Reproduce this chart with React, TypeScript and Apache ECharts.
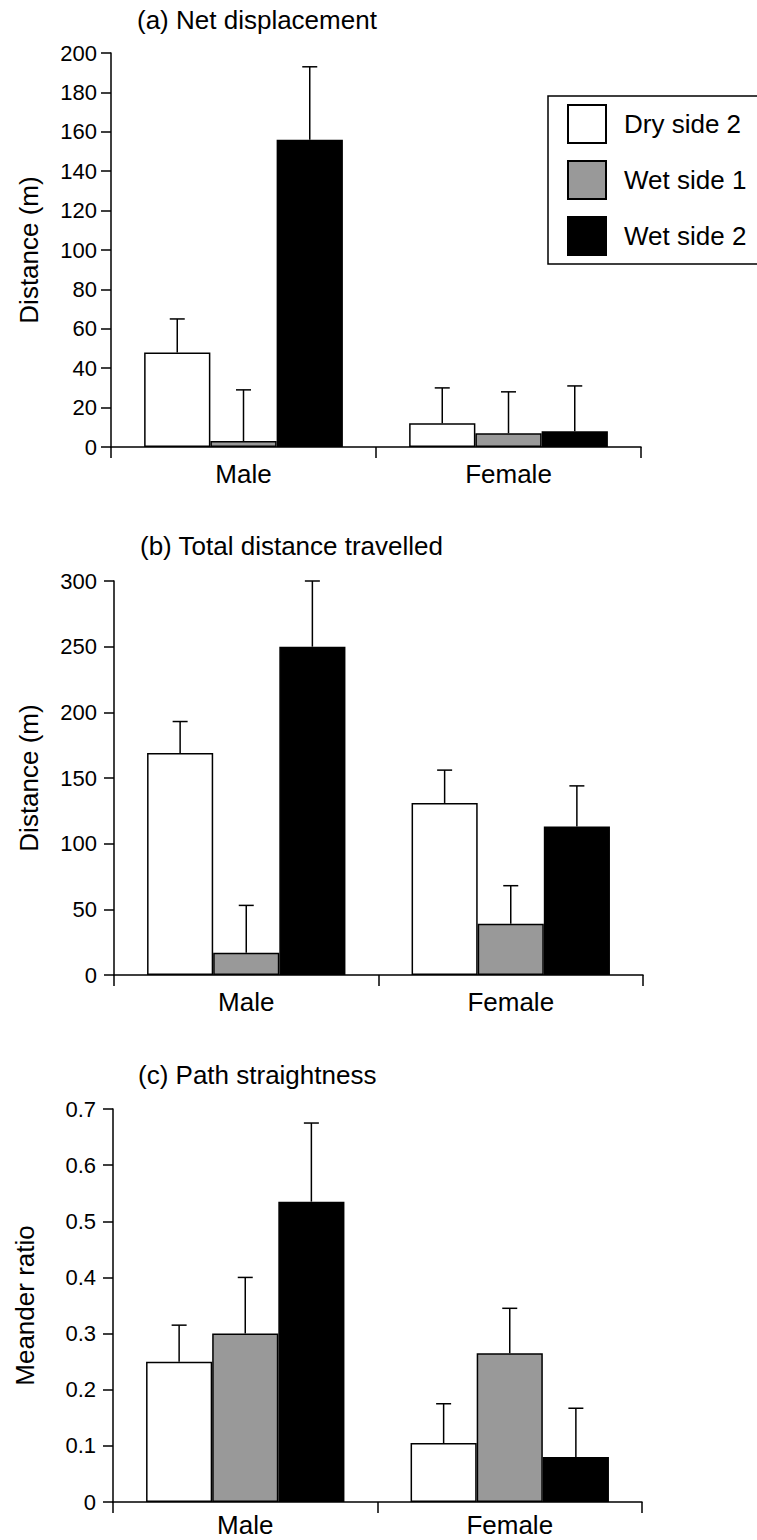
import React, { useEffect, useRef } from "react";
import * as echarts from "echarts";

const categories = ["Male", "Female"];
const seriesNames = ["Dry side 2", "Wet side 1", "Wet side 2"];
const seriesColors = ["#ffffff", "#999999", "#000000"];

// (a) Net displacement (m)
const netDry = [48, 12];
const netWet1 = [3, 7];
const netWet2 = [156, 8];
const netDrySE = [17, 18];
const netWet1SE = [26, 21];
const netWet2SE = [37, 23];

// (b) Total distance travelled (m)
const totDry = [169, 131];
const totWet1 = [17, 39];
const totWet2 = [250, 113];
const totDrySE = [24, 25];
const totWet1SE = [36, 29];
const totWet2SE = [50, 31];

// (c) Path straightness (meander ratio)
const mrDry = [0.25, 0.105];
const mrWet1 = [0.3, 0.265];
const mrWet2 = [0.535, 0.08];
const mrDrySE = [0.065, 0.07];
const mrWet1SE = [0.1, 0.08];
const mrWet2SE = [0.14, 0.087];

const panelTitles = ["(a) Net displacement", "(b) Total distance travelled", "(c) Path straightness"];
const yNames = ["Distance (m)", "Distance (m)", "Meander ratio"];
const yMax = [200, 300, 0.7];
const yInterval = [20, 50, 0.1];

const FONT = "Liberation Sans, Arial, Helvetica, sans-serif";

export default function App() {
  const ref = useRef<HTMLDivElement>(null);
  useEffect(() => {
    if (!ref.current) return;
    const chart = echarts.init(ref.current, null, { renderer: "svg" });

    const panels = [
      { vals: [netDry, netWet1, netWet2], se: [netDrySE, netWet1SE, netWet2SE] },
      { vals: [totDry, totWet1, totWet2], se: [totDrySE, totWet1SE, totWet2SE] },
      { vals: [mrDry, mrWet1, mrWet2], se: [mrDrySE, mrWet1SE, mrWet2SE] },
    ];

    const grids = [
      { left: 111, width: 530, top: 53, height: 394 },
      { left: 114, width: 529, top: 581, height: 394 },
      { left: 113, width: 529, top: 1109, height: 393 },
    ];
    const nameGaps = [69, 72, 75];
    const labelMargins = [14, 17, 17];
    const catMargins = [14, 14, 10];
    const titlePos = [
      { left: 137, top: 7 },
      { left: 140, top: 533 },
      { left: 138, top: 1062 },
    ];

    const axisLine = { show: true, lineStyle: { color: "#000", width: 1.5 } };
    const axisTick = { show: true, length: 10, lineStyle: { color: "#000", width: 1.5 } };

    const series: any[] = [];
    panels.forEach((p, gi) => {
      p.vals.forEach((v, si) => {
        series.push({
          type: "bar",
          name: seriesNames[si],
          xAxisIndex: gi,
          yAxisIndex: gi,
          data: v,
          barGap: "0%",
          barCategoryGap: "25%",
          itemStyle: { color: seriesColors[si], borderColor: "#000", borderWidth: 1.5 },
        });
      });
      const errData: any[] = [];
      p.vals.forEach((v, si) => {
        v.forEach((val, ci) => {
          errData.push([ci, val, val + p.se[si][ci], si]);
        });
      });
      series.push({
        type: "custom",
        xAxisIndex: gi,
        yAxisIndex: gi,
        data: errData,
        z: 5,
        renderItem: (params: any, api: any) => {
          const ci = api.value(0);
          const base = api.coord([ci, api.value(1)]);
          const top = api.coord([ci, api.value(2)]);
          const catW = api.size([1, 0])[0];
          const bw = (catW * 0.75) / 3;
          const x = base[0] + (api.value(3) - 1) * bw;
          const style = { stroke: "#000", lineWidth: 1.5 };
          return {
            type: "group",
            children: [
              { type: "line", shape: { x1: x, y1: base[1], x2: x, y2: top[1] }, style },
              { type: "line", shape: { x1: x - 7.5, y1: top[1], x2: x + 7.5, y2: top[1] }, style },
            ],
          };
        },
      });
    });

    const option: any = {
      animation: false,
      backgroundColor: "#fff",
      textStyle: { fontFamily: FONT, color: "#000" },
      title: panelTitles.map((t, i) => ({
        text: t,
        left: titlePos[i].left,
        top: titlePos[i].top,
        padding: 0,
        textStyle: { fontFamily: FONT, fontSize: 26, fontWeight: "normal", color: "#000" },
      })),
      legend: {
        data: seriesNames,
        orient: "vertical",
        left: 548,
        top: 96,
        itemWidth: 38,
        itemHeight: 38,
        itemGap: 16,
        padding: [8, 40, 8, 19],
        borderColor: "#000",
        borderWidth: 1.5,
        icon: "rect",
        textStyle: { fontFamily: FONT, fontSize: 26, color: "#000", padding: [0, 0, 0, 13] },
      },
      grid: grids.map((g) => ({ ...g, containLabel: false })),
      xAxis: grids.map((_, i) => ({
        type: "category",
        gridIndex: i,
        data: categories,
        axisLine,
        axisTick: { ...axisTick, length: 11 },
        axisLabel: { fontFamily: FONT, fontSize: 26, color: "#000", margin: catMargins[i] },
        splitLine: { show: false },
      })),
      yAxis: grids.map((_, i) => ({
        type: "value",
        gridIndex: i,
        min: 0,
        max: yMax[i],
        interval: yInterval[i],
        name: yNames[i],
        nameLocation: "middle",
        nameGap: nameGaps[i],
        nameRotate: 90,
        nameTextStyle: { fontFamily: FONT, fontSize: 26, color: "#000" },
        axisLine,
        axisTick,
        axisLabel: { fontFamily: FONT, fontSize: 22, color: "#000", margin: labelMargins[i] },
        splitLine: { show: false },
      })),
      series,
    };
    chart.setOption(option);
    return () => chart.dispose();
  }, []);
  return (
    <div
      ref={ref}
      style={{ position: "absolute", left: 0, top: 0, width: 757, height: 1540, background: "#fff" }}
    />
  );
}
